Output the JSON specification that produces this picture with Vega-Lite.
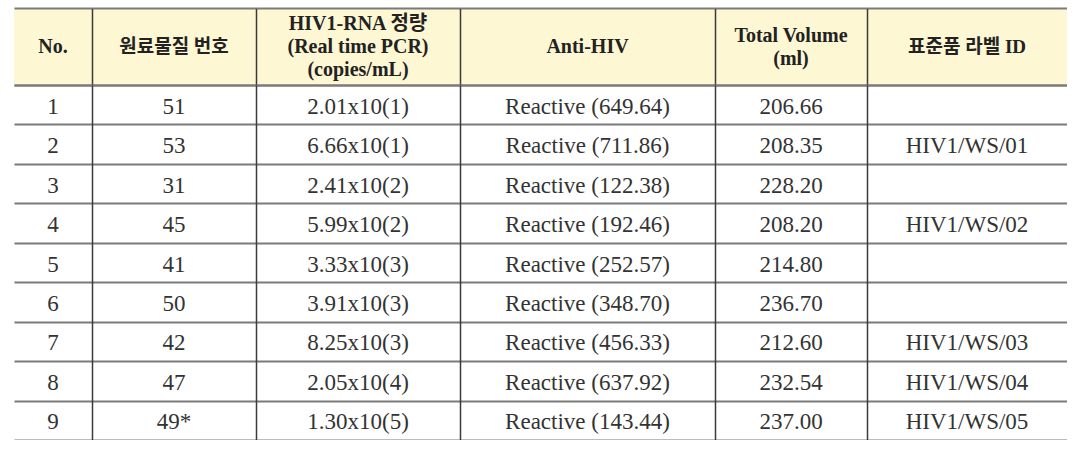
{
  "$schema": "https://vega.github.io/schema/vega-lite/v6.json",
  "background": "white",
  "padding": {"left": 14, "top": 8, "right": 0, "bottom": 0},
  "datasets": {
    "rows": [
      {"No": 1, "mat": "51", "rna": "2.01x10(1)", "anti": "Reactive (649.64)", "vol": "206.66", "label": ""},
      {"No": 2, "mat": "53", "rna": "6.66x10(1)", "anti": "Reactive (711.86)", "vol": "208.35", "label": "HIV1/WS/01"},
      {"No": 3, "mat": "31", "rna": "2.41x10(2)", "anti": "Reactive (122.38)", "vol": "228.20", "label": ""},
      {"No": 4, "mat": "45", "rna": "5.99x10(2)", "anti": "Reactive (192.46)", "vol": "208.20", "label": "HIV1/WS/02"},
      {"No": 5, "mat": "41", "rna": "3.33x10(3)", "anti": "Reactive (252.57)", "vol": "214.80", "label": ""},
      {"No": 6, "mat": "50", "rna": "3.91x10(3)", "anti": "Reactive (348.70)", "vol": "236.70", "label": ""},
      {"No": 7, "mat": "42", "rna": "8.25x10(3)", "anti": "Reactive (456.33)", "vol": "212.60", "label": "HIV1/WS/03"},
      {"No": 8, "mat": "47", "rna": "2.05x10(4)", "anti": "Reactive (637.92)", "vol": "232.54", "label": "HIV1/WS/04"},
      {"No": 9, "mat": "49*", "rna": "1.30x10(5)", "anti": "Reactive (143.44)", "vol": "237.00", "label": "HIV1/WS/05"}
    ]
  },
  "columns": 6,
  "spacing": 0,
  "bounds": "flush",
  "concat": [
    {"width": 78, "height": 77, "view": {"fill": "#FEF7D4", "stroke": null},
     "data": {"values": [{"part": "h", "t": "No."}]},
     "mark": {"type": "text", "font": "Liberation Serif, Noto Sans CJK KR", "fontSize": 20, "fontWeight": "bold", "color": "#222", "lineBreak": "\n", "lineHeight": 23},
     "encoding": {"y": {"field": "part", "type": "nominal", "scale": {"type": "band", "paddingInner": 0, "paddingOuter": 0}, "axis": {"title": null, "domain": false}}, "text": {"field": "t"}}},
    {"width": 164, "height": 77, "view": {"fill": "#FEF7D4", "stroke": null},
     "data": {"values": [{"part": "h", "t": "원료물질 번호"}]},
     "mark": {"type": "text", "font": "Liberation Serif, Noto Sans CJK KR", "fontSize": 19, "fontWeight": "bold", "color": "#222", "lineBreak": "\n", "lineHeight": 23},
     "encoding": {"y": {"field": "part", "type": "nominal", "scale": {"type": "band", "paddingInner": 0, "paddingOuter": 0}, "axis": {"title": null}}, "text": {"field": "t"}}},
    {"width": 204, "height": 77, "view": {"fill": "#FEF7D4", "stroke": null},
     "data": {"values": [{"part": "h", "t": "HIV1-RNA 정량\n(Real time PCR)\n(copies/mL)"}]},
     "mark": {"type": "text", "font": "Liberation Serif, Noto Sans CJK KR", "fontSize": 20, "fontWeight": "bold", "color": "#222", "lineBreak": "\n", "lineHeight": 23, "dy": -23},
     "encoding": {"y": {"field": "part", "type": "nominal", "scale": {"type": "band", "paddingInner": 0, "paddingOuter": 0}, "axis": {"title": null}}, "text": {"field": "t"}}},
    {"width": 255, "height": 77, "view": {"fill": "#FEF7D4", "stroke": null},
     "data": {"values": [{"part": "h", "t": "Anti-HIV"}]},
     "mark": {"type": "text", "font": "Liberation Serif, Noto Sans CJK KR", "fontSize": 20, "fontWeight": "bold", "color": "#222", "lineBreak": "\n", "lineHeight": 23},
     "encoding": {"y": {"field": "part", "type": "nominal", "scale": {"type": "band", "paddingInner": 0, "paddingOuter": 0}, "axis": {"title": null}}, "text": {"field": "t"}}},
    {"width": 152, "height": 77, "view": {"fill": "#FEF7D4", "stroke": null},
     "data": {"values": [{"part": "h", "t": "Total Volume\n(ml)"}]},
     "mark": {"type": "text", "font": "Liberation Serif, Noto Sans CJK KR", "fontSize": 20, "fontWeight": "bold", "color": "#222", "lineBreak": "\n", "lineHeight": 23, "dy": -11},
     "encoding": {"y": {"field": "part", "type": "nominal", "scale": {"type": "band", "paddingInner": 0, "paddingOuter": 0}, "axis": {"title": null}}, "text": {"field": "t"}}},
    {"width": 200, "height": 77, "view": {"fill": "#FEF7D4", "stroke": null},
     "data": {"values": [{"part": "h", "t": "표준품 라벨 ID"}]},
     "mark": {"type": "text", "font": "Liberation Serif, Noto Sans CJK KR", "fontSize": 19, "fontWeight": "bold", "color": "#222", "lineBreak": "\n", "lineHeight": 23},
     "encoding": {"y": {"field": "part", "type": "nominal", "scale": {"type": "band", "paddingInner": 0, "paddingOuter": 0}, "axis": {"title": null}}, "text": {"field": "t"}}},
    {"width": 78, "height": 355, "data": {"name": "rows"},
     "mark": {"type": "text", "font": "Liberation Serif, Noto Sans CJK KR", "fontSize": 23, "color": "#333", "dy": 2},
     "encoding": {"y": {"field": "No", "type": "ordinal", "scale": {"type": "band", "paddingInner": 0, "paddingOuter": 0}, "axis": {"title": null, "domain": false}}, "text": {"field": "No"}}},
    {"width": 164, "height": 355, "data": {"name": "rows"},
     "mark": {"type": "text", "font": "Liberation Serif, Noto Sans CJK KR", "fontSize": 23, "color": "#333", "dy": 2},
     "encoding": {"y": {"field": "No", "type": "ordinal", "scale": {"type": "band", "paddingInner": 0, "paddingOuter": 0}, "axis": {"title": null}}, "text": {"field": "mat"}}},
    {"width": 204, "height": 355, "data": {"name": "rows"},
     "mark": {"type": "text", "font": "Liberation Serif, Noto Sans CJK KR", "fontSize": 23, "color": "#333", "dy": 2},
     "encoding": {"y": {"field": "No", "type": "ordinal", "scale": {"type": "band", "paddingInner": 0, "paddingOuter": 0}, "axis": {"title": null}}, "text": {"field": "rna"}}},
    {"width": 255, "height": 355, "data": {"name": "rows"},
     "mark": {"type": "text", "font": "Liberation Serif, Noto Sans CJK KR", "fontSize": 23, "color": "#333", "dy": 2},
     "encoding": {"y": {"field": "No", "type": "ordinal", "scale": {"type": "band", "paddingInner": 0, "paddingOuter": 0}, "axis": {"title": null}}, "text": {"field": "anti"}}},
    {"width": 152, "height": 355, "data": {"name": "rows"},
     "mark": {"type": "text", "font": "Liberation Serif, Noto Sans CJK KR", "fontSize": 23, "color": "#333", "dy": 2},
     "encoding": {"y": {"field": "No", "type": "ordinal", "scale": {"type": "band", "paddingInner": 0, "paddingOuter": 0}, "axis": {"title": null}}, "text": {"field": "vol"}}},
    {"width": 200, "height": 355, "data": {"name": "rows"},
     "mark": {"type": "text", "font": "Liberation Serif, Noto Sans CJK KR", "fontSize": 23, "color": "#333", "dy": 2},
     "encoding": {"y": {"field": "No", "type": "ordinal", "scale": {"type": "band", "paddingInner": 0, "paddingOuter": 0}, "axis": {"title": null}}, "text": {"field": "label"}}}
  ],
  "config": {
    "view": {"stroke": null},
    "axisY": {
      "labels": false,
      "ticks": false,
      "grid": true,
      "tickBand": "extent",
      "gridColor": "#7a7a7a",
      "gridWidth": 2,
      "gridOpacity": 1,
      "domain": true,
      "domainColor": "#3a3a3a",
      "domainWidth": 1.5
    }
  }
}
